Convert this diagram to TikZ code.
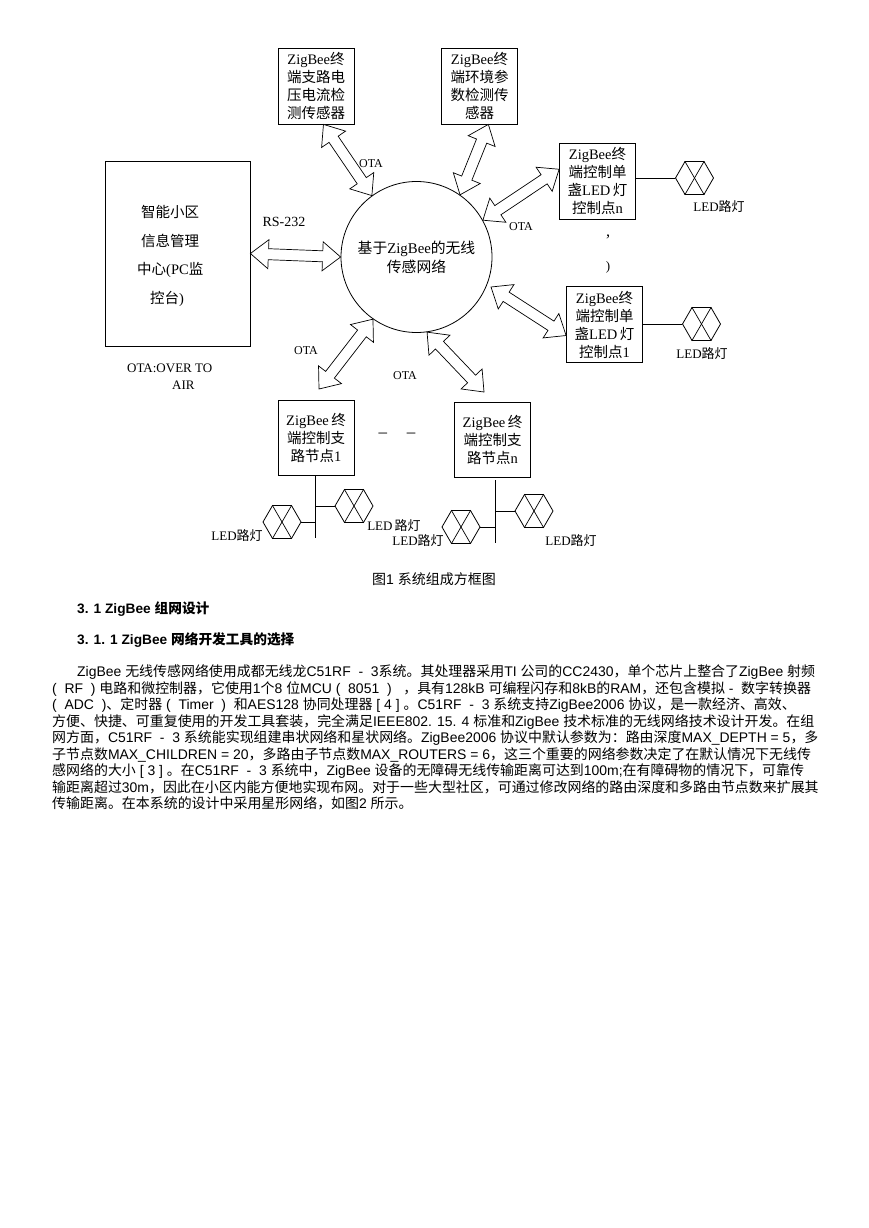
\documentclass[tikz,border=0pt]{standalone}
\usepackage{fontspec}
\setmainfont{Liberation Sans}
\newfontfamily\cjk{Noto Sans CJK SC}
\newfontfamily\seriffont{Liberation Serif}
\newcommand{\zh}[1]{{\cjk #1}}
\usetikzlibrary{shapes.geometric,positioning,calc}
\tikzset{
  endblock/.style={rectangle,draw,line width=0.8pt,align=center,inner sep=0pt,
    minimum width=76pt,minimum height=76pt,font=\seriffont\fontsize{14.5}{18}\selectfont},
  hollowarrow/.style={draw,line width=0.7pt,fill=white,line join=miter,
    to path={
      -- ($(\tikztostart)!18pt!(\tikztotarget)!14.5pt!90:(\tikztotarget)$)
      -- ($(\tikztostart)!18pt!(\tikztotarget)!5.5pt!90:(\tikztotarget)$)
      -- ($(\tikztotarget)!18pt!(\tikztostart)!5.5pt!-90:(\tikztostart)$)
      -- ($(\tikztotarget)!18pt!(\tikztostart)!14.5pt!-90:(\tikztostart)$)
      -- (\tikztotarget)
      -- ($(\tikztotarget)!18pt!(\tikztostart)!14.5pt!90:(\tikztostart)$)
      -- ($(\tikztotarget)!18pt!(\tikztostart)!5.5pt!90:(\tikztostart)$)
      -- ($(\tikztostart)!18pt!(\tikztotarget)!5.5pt!-90:(\tikztotarget)$)
      -- ($(\tikztostart)!18pt!(\tikztotarget)!14.5pt!-90:(\tikztotarget)$)
      -- cycle}},
  lamp/.style={regular polygon,regular polygon sides=6,draw,line width=0.8pt,
    minimum size=38pt,inner sep=0pt},
  wire/.style={line width=0.9pt},
  annot/.style={inner sep=0pt,font=\seriffont\fontsize{13}{15}\selectfont},
  otalabel/.style={inner sep=0pt,font=\seriffont\fontsize{12}{14}\selectfont},
  bodyline/.style={anchor=base west,inner sep=0pt,font=\fontsize{13.95}{16}\selectfont},
  headline/.style={anchor=base west,inner sep=0pt,font=\bfseries\fontsize{13.7}{16}\selectfont}
}
\begin{document}
\begin{tikzpicture}[x=1pt,y=-1pt]
  \useasboundingbox (0,0) rectangle (868,1228);
  % Management centre and the wireless network
  \node[rectangle,draw,line width=0.8pt,minimum width=145pt,minimum height=185pt] (pc) at (177.5,253.5) {};
  \node[inner sep=0pt,align=left,anchor=west,font=\seriffont\fontsize{14.5}{28.7}\selectfont] (pctext) at (137,256)
    {\mbox{}\kern4pt\zh{智能小区}\\\mbox{}\kern4pt\zh{信息管理}\\\zh{中心}(PC\zh{监}\\\mbox{}\kern13pt\zh{控台})};
  \node[circle,draw,line width=0.8pt,minimum size=151pt,inner sep=0pt,align=center,
    font=\seriffont\fontsize{14.8}{19}\selectfont] (hub) at (416.5,257)
    {\zh{基于}ZigBee\zh{的无线}\\\zh{传感网络}};
  % Terminals around the network
  \node[endblock] (sensorA) at (316,86)
    {ZigBee\zh{终}\\\zh{端支路电}\\\zh{压电流检}\\\zh{测传感器}};
  \node[endblock] (sensorB) at (479.5,86)
    {ZigBee\zh{终}\\\zh{端环境参}\\\zh{数检测传}\\\zh{感器}};
  \node[endblock] (singleN) at (597.5,181)
    {ZigBee\zh{终}\\\zh{端控制单}\\\zh{盏}LED\,\zh{灯}\\\zh{控制点}n};
  \node[endblock] (singleA) at (604.5,324.5)
    {ZigBee\zh{终}\\\zh{端控制单}\\\zh{盏}LED\,\zh{灯}\\\zh{控制点}1};
  \node[endblock,minimum height=75pt] (branchA) at (316,437.5)
    {ZigBee\,\zh{终}\\\zh{端控制支}\\\zh{路节点}1};
  \node[endblock,minimum height=75pt] (branchN) at (492.5,439.5)
    {ZigBee\,\zh{终}\\\zh{端控制支}\\\zh{路节点}n};

  % Lamps
  \node[lamp] (lampN) at (694.5,178) {};
  \node[lamp] (lampA) at (701.5,324) {};
  \node[lamp] (lampB) at (282,522) {};
  \node[lamp] (lampC) at (354,506) {};
  \node[lamp] (lampD) at (461,527) {};
  \node[lamp] (lampE) at (534,511) {};
  \foreach \l in {lampN,lampA,lampB,lampC,lampD,lampE} {
    \draw[line width=0.7pt] (\l.corner 1) -- (\l.corner 4);
    \draw[line width=0.7pt] (\l.corner 2) -- (\l.corner 5);
  }

  % Free ends
  \coordinate (tipA) at (491,287);
  \coordinate (tipB) at (484,392);
  \coordinate (tipC) at (319,389);
  \coordinate (stemA) at (315,538);
  \coordinate (stemB) at (495,480);
  \coordinate (stemC) at (495,543);

  % Hollow double arrows
  \draw[hollowarrow] (pc.east) to (hub.west);
  \draw[hollowarrow] (hub.126.6) to (sensorA.-79);
  \draw[hollowarrow] (hub.55) to (sensorB.-77);
  \draw[hollowarrow] (hub.29) to (singleN.163);
  \draw[hollowarrow] (tipA) to (singleA.196);
  \draw[hollowarrow] (hub.-82) to (tipB);
  \draw[hollowarrow] (hub.235.6) to (tipC);

  % Wires to the lamps
  \draw[wire] (singleN.east |- lampN.west) -- (lampN.west);
  \draw[wire] (singleA.east |- lampA.west) -- (lampA.west);
  \draw[wire] (branchA.south -| stemA) -- (stemA);
  \draw[wire] (stemB) -- (stemC);
  \draw[wire] (lampC.west) -- (lampC.west -| stemA);
  \draw[wire] (lampB.east) -- (lampB.east -| stemA);
  \draw[wire] (lampE.west) -- (lampE.west -| stemB);
  \draw[wire] (lampD.east) -- (lampD.east -| stemB);

  % Labels
  \node[otalabel] (ota1) at (371,164) {OTA};
  \node[otalabel] (ota2) at (521,227) {OTA};
  \node[otalabel] (ota3) at (306,351) {OTA};
  \node[otalabel] (ota4) at (405,376) {OTA};
  \node[annot,font=\seriffont\fontsize{14}{15}\selectfont] (rs) at (284,222) {RS-232};
  \node[annot,align=left,anchor=west,font=\seriffont\fontsize{13}{17}\selectfont] (otanote) at (127,377)
    {OTA:OVER TO\\\mbox{}\kern45pt AIR};
  \node[annot] (ledN) at (719,207) {LED\zh{路灯}};
  \node[annot] (ledA) at (702,354) {LED\zh{路灯}};
  \node[annot] (ledB) at (237,536) {LED\zh{路灯}};
  \node[annot] (ledC) at (394,526) {LED\,\zh{路灯}};
  \node[annot] (ledD) at (418,541) {LED\zh{路灯}};
  \node[annot] (ledE) at (571,541) {LED\zh{路灯}};
  \node[annot,font=\seriffont\fontsize{16}{16}\selectfont] (markA) at (608,240) {’};
  \node[annot] (markB) at (608,267) {)};
  \node[annot,font=\seriffont\fontsize{17}{17}\selectfont] (dashes) at (397,435) {–\kern20pt–};

  % Caption and running text
  \node[inner sep=0pt,font=\fontsize{14}{16}\selectfont] (caption) at (434,579)
    {\zh{图}1 \zh{系统组成方框图}};
  \node[headline] (h1) at (77,613.5) {3. 1 ZigBee \zh{组网设计}};
  \node[headline] (h2) at (77,644.5) {3. 1. 1 ZigBee \zh{网络开发工具的选择}};
  \node[bodyline] (l1) at (77,676.5) {ZigBee \zh{无线传感网络使用成都无线龙}C51RF ~- ~3\zh{系统。其处理器采用}TI \zh{公司的}CC2430\zh{，单个芯片上整合了}ZigBee \zh{射频}};
  \node[bodyline] (l2) at (52,693) {( ~RF ~) \zh{电路和微控制器，它使用}1\zh{个}8 \zh{位}MCU ( ~8051 ~) ~~\zh{，具有}128kB \zh{可编程闪存和}8kB\zh{的}RAM\zh{，还包含模拟} - ~\zh{数字转换器}};
  \node[bodyline] (l3) at (52,709.5) {( ~ADC ~)\zh{、定时器} ( ~Timer ~) ~\zh{和}AES128 \zh{协同处理器} [ 4 ] \zh{。}C51RF ~- ~3 \zh{系统支持}ZigBee2006 \zh{协议，是一款经济、高效、}};
  \node[bodyline] (l4) at (52,726) {\zh{方便、快捷、可重复使用的开发工具套装，完全满足}IEEE802. 15. 4 \zh{标准和}ZigBee \zh{技术标准的无线网络技术设计开发。在组}};
  \node[bodyline] (l5) at (52,742.5) {\zh{网方面，}C51RF ~- ~3 \zh{系统能实现组建串状网络和星状网络。}ZigBee2006 \zh{协议中默认参数为：路由深度}MAX\_DEPTH = 5\zh{，多}};
  \node[bodyline] (l6) at (52,759) {\zh{子节点数}MAX\_CHILDREN = 20\zh{，多路由子节点数}MAX\_ROUTERS = 6\zh{，这三个重要的网络参数决定了在默认情况下无线传}};
  \node[bodyline] (l7) at (52,775.5) {\zh{感网络的大小} [ 3 ] \zh{。在}C51RF ~- ~3 \zh{系统中，}ZigBee \zh{设备的无障碍无线传输距离可达到}100m;\zh{在有障碍物的情况下，可靠传}};
  \node[bodyline] (l8) at (52,792) {\zh{输距离超过}30m\zh{，因此在小区内能方便地实现布网。对于一些大型社区，可通过修改网络的路由深度和多路由节点数来扩展其}};
  \node[bodyline] (l9) at (52,808.5) {\zh{传输距离。在本系统的设计中采用星形网络，如图}2 \zh{所示。}};
\end{tikzpicture}
\end{document}
